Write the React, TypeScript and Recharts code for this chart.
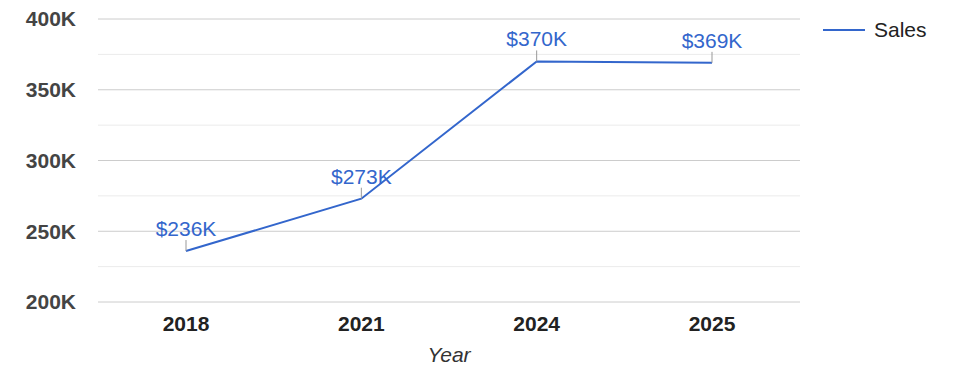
import React from "react";
import { LineChart, Line, XAxis, YAxis, CartesianGrid, ReferenceLine, Legend, LabelList } from "recharts";

const years = ["2018", "2021", "2024", "2025"];
const sales = [236, 273, 370, 369];
const majorTicks = [200, 250, 300, 350, 400];
const minorTicks = [225, 275, 325, 375];

const data = years.map((y, i) => ({ year: y, sales: sales[i] }));

const FONT = "'Liberation Sans', Arial, sans-serif";
const BLUE = "#3366cc";

const PointLabel = (props: any) => {
  const { x, y, value } = props;
  if (x == null || y == null) return null;
  return (
    <g>
      <line x1={x} y1={y} x2={x} y2={y - 11} stroke="#999" strokeWidth={1} />
      <text x={x} y={y - 15} textAnchor="middle" fill={BLUE} fontSize={21} fontFamily={FONT}>
        {`$${Math.round(value)}K`}
      </text>
    </g>
  );
};

const LegendContent = () => (
  <div style={{ display: "flex", alignItems: "center", height: 24, fontFamily: FONT }}>
    <svg width={74} height={24} style={{ display: "block" }}>
      <line x1={23} y1={12} x2={65} y2={12} stroke={BLUE} strokeWidth={2} />
    </svg>
    <span style={{ fontSize: 21, color: "#222", lineHeight: "24px" }}>Sales</span>
  </div>
);

export default function App() {
  return (
    <div style={{ position: "absolute", left: 0, top: 0, background: "#fff" }}>
      <LineChart width={975} height={378} data={data} margin={{ top: 19, right: 0, bottom: 0, left: 0 }}>
        <CartesianGrid vertical={false} stroke="#cccccc" />
        {minorTicks.map((t) => (
          <ReferenceLine key={t} y={t} stroke="#ebebeb" strokeWidth={1} ifOverflow="extendDomain" />
        ))}
        <XAxis
          dataKey="year"
          height={76}
          axisLine={false}
          tickLine={false}
          tickSize={6}
          tickMargin={8}
          padding={{ left: 88, right: 88 }}
          tick={{ fontSize: 21, fontWeight: "bold", fill: "#222", fontFamily: FONT }}
          label={{ value: "Year", position: "insideBottom", offset: 16, fontSize: 21, fontStyle: "italic", fill: "#333", fontFamily: FONT }}
        />
        <YAxis
          width={98}
          domain={[200, 400]}
          ticks={majorTicks}
          axisLine={false}
          tickLine={false}
          tickSize={6}
          tickMargin={16}
          tickFormatter={(v: number) => `${v}K`}
          tick={{ fontSize: 21, fontWeight: "bold", fill: "#444", fontFamily: FONT }}
        />
        <Legend
          layout="vertical"
          align="right"
          verticalAlign="top"
          width={175}
          wrapperStyle={{ top: 18 }}
          content={<LegendContent />}
        />
        <Line
          type="linear"
          dataKey="sales"
          name="Sales"
          stroke={BLUE}
          strokeWidth={2}
          dot={false}
          isAnimationActive={false}
        >
          <LabelList dataKey="sales" content={<PointLabel />} />
        </Line>
      </LineChart>
    </div>
  );
}
